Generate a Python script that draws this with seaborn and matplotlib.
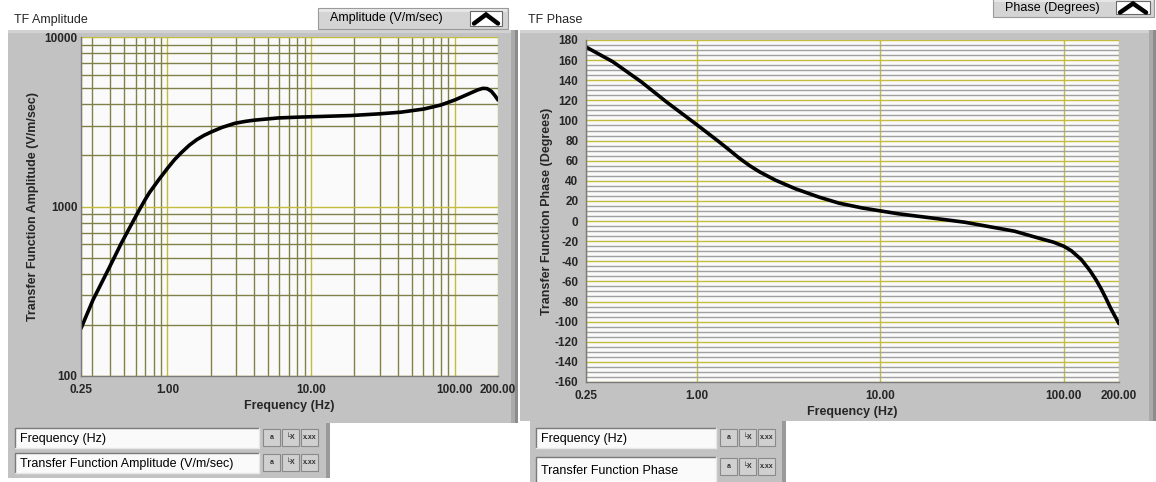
import numpy as np
import pandas as pd
import matplotlib
matplotlib.use("Agg")
import matplotlib.pyplot as plt
from matplotlib.patches import Rectangle
from matplotlib.lines import Line2D
from matplotlib.ticker import LogLocator, MultipleLocator, NullFormatter, NullLocator, FixedLocator
import seaborn as sns

sns.set_theme(style="white")
plt.rcParams['font.family'] = ['Liberation Sans', 'DejaVu Sans']

# amplitude of the transfer function (V/m/sec) vs frequency (Hz)
amp_freq = [0.25, 0.303, 0.396, 0.477, 0.55, 0.63, 0.7, 0.75, 0.87, 1.0, 1.12, 1.25, 1.42, 1.6,
            1.8, 2.03, 2.4, 2.96, 3.5, 4.0, 5.9, 8.45, 12, 18.8, 29.7, 42, 61, 80, 100,
            123, 145, 157, 168, 180, 190, 200]
amp_vals = [191, 281, 441, 607, 760, 940, 1100, 1210, 1440, 1680, 1890, 2080, 2300, 2480,
            2630, 2760, 2930, 3100, 3180, 3230, 3330, 3370, 3400, 3440, 3520, 3600, 3760, 3970, 4250,
            4590, 4880, 4980, 4960, 4780, 4520, 4250]

# phase of the transfer function (degrees) vs frequency (Hz)
ph_freq = [0.25, 0.35, 0.50, 0.685, 1.0, 1.33, 1.5, 1.71, 1.95, 2.2, 2.7, 3.47, 4.65, 5.97, 8.0,
           12.6, 20, 29, 40, 54, 75.5, 88, 100, 110, 125, 139, 150, 160, 170, 180, 190, 200]
ph_vals = [173, 158.4, 138.4, 118.5, 96, 78.6, 71, 62.5, 55, 49, 40.5, 32, 23.8, 17.8, 13,
           7.2, 2.6, -1.2, -5.8, -10.1, -17.7, -21, -25, -29.5, -38.5, -49.3, -58.5, -67.5, -77, -86.5, -94.5, -102]

x_ticks = [0.25, 1, 10, 100, 200]
x_ticklabels = ["0.25", "1.00", "10.00", "100.00", "200.00"]
amp_ticks = [100, 1000, 10000]
amp_ticklabels = ["100", "1000", "10000"]
ph_ticks = list(range(-160, 181, 20))

amp_df = pd.DataFrame({"freq": amp_freq, "amp": amp_vals})
ph_df = pd.DataFrame({"freq": ph_freq, "phase": ph_vals})

W, H = 1156, 482
fig = plt.figure(figsize=(W / 100, H / 100), dpi=100)
fig.patch.set_facecolor("white")

FRAME = "#c2c2c2"
MAJOR = "#c4bc3c"
MINOR_OLIVE = "#80804a"
MINOR_GRAY = "#a0a0a0"


def rect(x0, y0, x1, y1, z=-5, **kw):
    fig.add_artist(Rectangle((x0 / W, 1 - y1 / H), (x1 - x0) / W, (y1 - y0) / H,
                             transform=fig.transFigure, zorder=z, **kw))


def text(x, y, s, **kw):
    kw.setdefault("va", "center")
    kw.setdefault("fontsize", 9)
    fig.text(x / W, 1 - y / H, s, **kw)


def polyline(xs, ys, z=5, **kw):
    fig.add_artist(Line2D([x / W for x in xs], [1 - y / H for y in ys],
                          transform=fig.transFigure, zorder=z, **kw))


def frame(x0, y0, x1, y1):
    rect(x0, y0, x1, y1, facecolor=FRAME, edgecolor="none")
    rect(x0, y0, x1, y0 + 3, z=-4, facecolor="#d2d2d2", edgecolor="none")
    rect(x1 - 7, y0, x1 - 3, y1, z=-4, facecolor="#aaaaaa", edgecolor="none")
    rect(x1 - 3, y0, x1, y1, z=-4, facecolor="#8c8c8c", edgecolor="none")


def button(x0, y0, x1, y1, label, bx0, bx1):
    rect(x0, y0, x1, y1, z=-3, facecolor="#d4d4d4", edgecolor="#9a9a9a", linewidth=0.8)
    rect(x0 + 1, y0 + 1, x1 - 1, y0 + 4, z=-2, facecolor="#e6e6e6", edgecolor="none")
    text(x0 + 12, (y0 + y1) / 2, label, fontsize=9, color="black")
    rect(bx0, y0 + 3, bx1, y1 - 3, z=-2, facecolor="white", edgecolor="#6a6a6a", linewidth=0.8)
    cy = (y0 + y1) / 2
    polyline([bx0 + 4, (bx0 + bx1) / 2, bx1 - 4], [cy + 5, cy - 4, cy + 5],
             color="black", linewidth=3.2, solid_joinstyle="miter")


def field(x0, y0, x1, y1, s):
    rect(x0, y0, x1, y1, z=-3, facecolor="#fafafa", edgecolor="none")
    polyline([x0, x0, x1], [y1, y0, y0], color="#7a7a7a", linewidth=1)
    polyline([x0, x1, x1], [y1, y1, y0], color="#e8e8e8", linewidth=1)
    text(x0 + 5, (y0 + y1) / 2 + 1, s, fontsize=9, color="black")


def icons(x0, y0):
    for i, s in enumerate(["a", "\u2514X", "x.xx"]):
        bx = x0 + i * 19
        rect(bx, y0, bx + 17, y0 + 17, z=-3, facecolor="#d0d0d0", edgecolor="#8a8a8a", linewidth=0.8)
        text(bx + 8.5, y0 + 8.5, s, fontsize=5, ha="center", fontweight="bold", color="#303030")


# panels
frame(8, 30, 518, 423)
frame(520, 30, 1156, 421)
rect(8, 423, 330, 478, facecolor=FRAME, edgecolor="none")
rect(326, 423, 330, 478, z=-4, facecolor="#9a9a9a", edgecolor="none")
rect(530, 421, 786, 482, facecolor=FRAME, edgecolor="none")
rect(782, 421, 786, 482, z=-4, facecolor="#9a9a9a", edgecolor="none")

text(14, 20, "TF Amplitude", fontsize=9)
text(528, 20, "TF Phase", fontsize=9)
button(318, 8, 508, 29, "Amplitude (V/m/sec)", 470, 502)
button(993, -2, 1154, 17, "Phase (Degrees)", 1116, 1150)

field(15, 428, 259, 448, "Frequency (Hz)")
field(15, 453, 259, 473, "Transfer Function Amplitude (V/m/sec)")
icons(263, 429)
icons(263, 454)
field(536, 428, 716, 448, "Frequency (Hz)")
field(536, 457, 716, 484, "Transfer Function Phase")
icons(720, 429)
icons(720, 458)

bold = dict(fontsize=8.5, fontweight="bold")

# amplitude plot
ax1 = fig.add_axes([81 / W, 1 - 376 / H, 417 / W, 339 / H])
ax1.set_facecolor("#fafafa")
sns.lineplot(data=amp_df, x="freq", y="amp", ax=ax1, color="black", linewidth=2.6)
ax1.set_xscale("log")
ax1.set_yscale("log")
ax1.set_xlim(0.25, 200)
ax1.set_ylim(100, 10000)
ax1.xaxis.set_major_locator(FixedLocator(x_ticks))
ax1.set_xticklabels(x_ticklabels, **bold)
ax1.yaxis.set_major_locator(FixedLocator(amp_ticks))
ax1.set_yticklabels(amp_ticklabels, **bold)
ax1.xaxis.set_minor_locator(LogLocator(base=10, subs=range(2, 10)))
ax1.yaxis.set_minor_locator(LogLocator(base=10, subs=range(2, 10)))
ax1.xaxis.set_minor_formatter(NullFormatter())
ax1.yaxis.set_minor_formatter(NullFormatter())
ax1.grid(which="minor", color=MINOR_OLIVE, linewidth=1)
ax1.grid(which="major", color=MAJOR, linewidth=1)
ax1.set_axisbelow(True)
ax1.tick_params(which="minor", length=0)
ax1.tick_params(axis="y", which="major", direction="in", length=4, color="#303030", pad=2.5)
ax1.tick_params(axis="x", which="major", direction="out", length=4, color="#303030", pad=1.5)
ax1.set_xlabel("Frequency (Hz)", fontsize=9, fontweight="bold", labelpad=3)
ax1.set_ylabel("Transfer Function Amplitude (V/m/sec)", fontsize=9, fontweight="bold", labelpad=4)

# phase plot
ax2 = fig.add_axes([586 / W, 1 - 382 / H, 533 / W, 342 / H])
ax2.set_facecolor("#fafafa")
sns.lineplot(data=ph_df, x="freq", y="phase", ax=ax2, color="black", linewidth=2.6)
ax2.set_xscale("log")
ax2.set_xlim(0.25, 200)
ax2.set_ylim(-160, 180)
ax2.xaxis.set_major_locator(FixedLocator(x_ticks))
ax2.set_xticklabels(x_ticklabels, **bold)
ax2.xaxis.set_minor_locator(NullLocator())
ax2.yaxis.set_major_locator(FixedLocator(ph_ticks))
ax2.set_yticklabels([str(v) for v in ph_ticks], **bold)
ax2.yaxis.set_minor_locator(MultipleLocator(5))
ax2.grid(which="minor", axis="y", color=MINOR_GRAY, linewidth=1)
ax2.grid(which="major", color=MAJOR, linewidth=1)
ax2.set_axisbelow(True)
ax2.tick_params(which="minor", length=0)
ax2.tick_params(axis="y", which="major", direction="in", length=4, color="#303030", pad=5.5)
ax2.tick_params(axis="x", which="major", direction="out", length=4, color="#303030", pad=1.5)
ax2.set_xlabel("Frequency (Hz)", fontsize=9, fontweight="bold", labelpad=3)
ax2.set_ylabel("Transfer Function Phase (Degrees)", fontsize=9, fontweight="bold", labelpad=1)

for ax in (ax1, ax2):
    for side in ("top", "right"):
        ax.spines[side].set_visible(False)
    for side in ("left", "bottom"):
        ax.spines[side].set_color("#7a7a7a")
        ax.spines[side].set_linewidth(1)

fig.savefig("out.png", dpi=100)
